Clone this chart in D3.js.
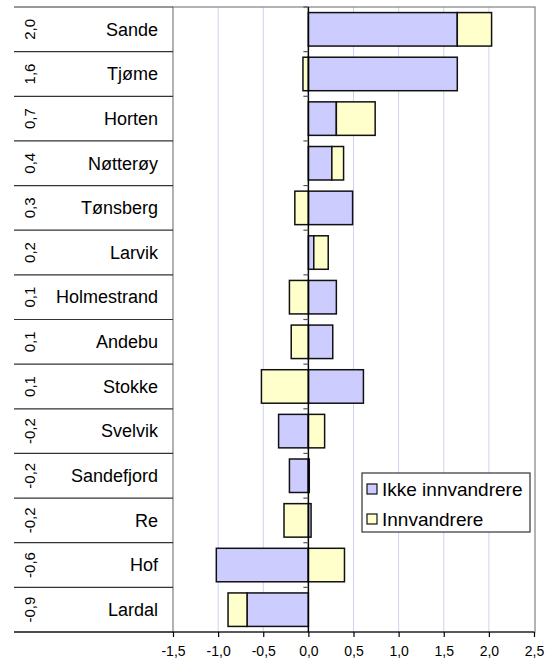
<!DOCTYPE html>
<html>
<head>
<meta charset="utf-8">
<script src="https://cdn.jsdelivr.net/npm/d3@7"></script>
<style>
body { margin: 0; background: #fff; }
svg { font-family: "Liberation Sans", Arial, sans-serif; }
</style>
</head>
<body>
<div class="chart"></div>
<script>
// municipalities, top to bottom
const kommuner = ["Sande","Tjøme","Horten","Nøtterøy","Tønsberg","Larvik","Holmestrand","Andebu","Stokke","Svelvik","Sandefjord","Re","Hof","Lardal"];
const ikkeInnv = [1.65, 1.65, 0.31, 0.26, 0.49, 0.06, 0.31, 0.27, 0.61, -0.33, -0.21, 0.03, -1.02, -0.68];
const innv = [0.38, -0.06, 0.43, 0.13, -0.15, 0.16, -0.21, -0.19, -0.52, 0.18, 0.01, -0.27, 0.40, -0.21];
const totals = ["2,0","1,6","0,7","0,4","0,3","0,2","0,1","0,1","0,1","-0,2","-0,2","-0,2","-0,6","-0,9"];
const seriesNames = ["Ikke innvandrere","Innvandrere"];
const xTicks = [-1.5,-1,-0.5,0,0.5,1,1.5,2,2.5];

const width = 552, height = 660;
const plot = {left: 173, right: 535, top: 7, bottom: 632};
const labelLeft = 14;
const colors = ["#ccccff","#ffffcc"];

const svg = d3.select(".chart").append("svg")
	.attr("width", width)
	.attr("height", height);

const x = d3.scaleLinear().domain([-1.5, 2.5]).range([plot.left, plot.right - 1]);
const y = d3.scaleBand().domain(kommuner).range([plot.top, plot.bottom]).paddingInner(0.25).paddingOuter(0.125);
const rowH = (plot.bottom - plot.top) / kommuner.length;

const rows = kommuner.map((k,i) => ({kommune: k, ikke: ikkeInnv[i], innv: innv[i]}));
const stack = d3.stack().keys(["ikke","innv"]).offset(d3.stackOffsetDiverging);
const layers = stack(rows);

// gridlines
svg.append("g").selectAll("line")
	.data(xTicks.filter(d => d !== 0 && d > -1.5 && d < 2.5))
	.enter().append("line")
		.attr("x1", d => x(d)).attr("x2", d => x(d))
		.attr("y1", plot.top).attr("y2", plot.bottom)
		.attr("stroke", "#d0d0f6")
		.attr("stroke-width", 1);

// plot frame
svg.append("rect")
	.attr("x", plot.left).attr("y", plot.top)
	.attr("width", plot.right - plot.left).attr("height", plot.bottom - plot.top)
	.attr("fill", "none")
	.attr("stroke", "#808080")
	.attr("stroke-width", 1.2);

// row separators in label column
svg.append("g").selectAll("line")
	.data(d3.range(kommuner.length + 1))
	.enter().append("line")
		.attr("x1", labelLeft).attr("x2", plot.left)
		.attr("y1", i => plot.top + i * rowH).attr("y2", i => plot.top + i * rowH)
		.attr("stroke", "#333")
		.attr("stroke-width", 1.2);

// bars
svg.append("g").selectAll("g")
	.data(layers)
	.enter().append("g")
		.attr("fill", (d,i) => colors[i])
	.selectAll("rect")
	.data(d => d)
	.enter().append("rect")
		.attr("x", d => x(Math.min(d[0], d[1])))
		.attr("width", d => Math.abs(x(d[1]) - x(d[0])))
		.attr("y", d => y(d.data.kommune))
		.attr("height", y.bandwidth())
		.attr("stroke", "#111")
		.attr("stroke-width", 1.5);

// zero axis with small ticks
svg.append("line")
	.attr("x1", x(0)).attr("x2", x(0))
	.attr("y1", plot.top).attr("y2", plot.bottom)
	.attr("stroke", "#000")
	.attr("stroke-width", 1.5);
svg.append("g").selectAll("line")
	.data(d3.range(kommuner.length))
	.enter().append("line")
		.attr("x1", x(0) - 5).attr("x2", x(0))
		.attr("y1", i => plot.top + i * rowH).attr("y2", i => plot.top + i * rowH)
		.attr("stroke", "#555")
		.attr("stroke-width", 1.2);

// bottom axis
const xAxis = d3.axisBottom(x)
	.tickValues(xTicks)
	.tickSize(5)
	.tickPadding(9)
	.tickFormat(d => d3.format(".1f")(d).replace(".", ",").replace("−", "-"));
const gx = svg.append("g")
	.attr("transform", "translate(0," + plot.bottom + ")")
	.call(xAxis);
gx.select(".domain").remove();
gx.selectAll(".tick line").attr("stroke", "#000").attr("stroke-width", 1.2);
gx.selectAll(".tick text").attr("font-size", 14).attr("fill", "#000").attr("font-family", null);
svg.append("line")
	.attr("x1", labelLeft).attr("x2", plot.right - 1)
	.attr("y1", plot.bottom).attr("y2", plot.bottom)
	.attr("stroke", "#000")
	.attr("stroke-width", 1.2);

// municipality names
svg.append("g").selectAll("text")
	.data(kommuner)
	.enter().append("text")
		.attr("x", 158)
		.attr("y", d => y(d) + y.bandwidth() / 2)
		.attr("dy", "0.35em")
		.attr("text-anchor", "end")
		.attr("font-size", 18)
		.text(d => d);

// totals, rotated
svg.append("g").selectAll("text")
	.data(totals)
	.enter().append("text")
		.attr("transform", (d,i) => "translate(30," + (y(kommuner[i]) + y.bandwidth() / 2) + ") rotate(-90)")
		.attr("dy", "0.35em")
		.attr("text-anchor", "middle")
		.attr("font-size", 15)
		.text(d => d);

// legend
const legend = svg.append("g").attr("transform", "translate(362,473)");
legend.append("rect")
	.attr("width", 168).attr("height", 59)
	.attr("fill", "#fff")
	.attr("stroke", "#333")
	.attr("stroke-width", 1.2);
const li = legend.selectAll("g.item")
	.data(seriesNames)
	.enter().append("g")
		.attr("class", "item")
		.attr("transform", (d,i) => "translate(0," + (16 + i * 30) + ")");
li.append("rect")
	.attr("x", 5).attr("y", -5)
	.attr("width", 10).attr("height", 10)
	.attr("fill", (d,i) => colors[i])
	.attr("stroke", "#111")
	.attr("stroke-width", 1.2);
li.append("text")
	.attr("x", 20)
	.attr("dy", "0.35em")
	.attr("font-size", 19)
	.text(d => d);
</script>
</body>
</html>
